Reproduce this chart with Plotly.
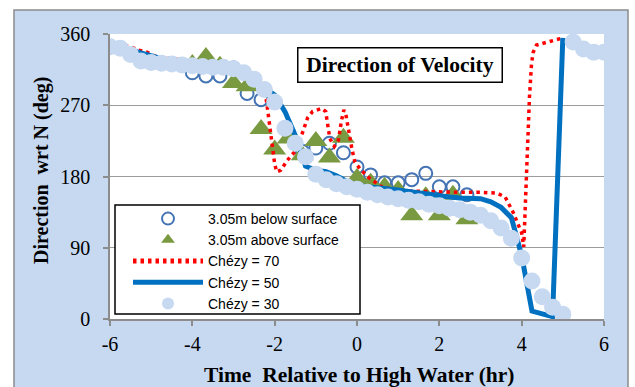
import plotly.graph_objects as go

# ---------------- data ----------------
# Observations (every 20 min)
t_obs = [-4, -3.67, -3.33, -3, -2.67, -2.33, -2, -1.67, -1.33, -1, -0.67, -0.33,
         0, 0.33, 0.67, 1, 1.33, 1.67, 2, 2.33, 2.67]
dir_below = [311, 307, 307, 317, 285, 277, 274, 236, 212, 216, 222, 210,
             192, 182, 172, 172, 176, 184, 167, 167, 157]
dir_above = [322, 331, 320, 298, 294, 240, 214, 228, 207, 225, 204, 229,
             178, 172, 167, 163, 131, 155, 131, 157, 126]

# Model Chezy = 70 (red dotted)
t70 = [-6, -5.5, -5.33, -5.1, -4.9, -4.5, -4.1, -3.5, -3.0, -2.5, -2.3, -2.2, -2.15,
       -2.1, -2.05, -2.0, -1.95, -1.85, -1.7, -1.5, -1.4, -1.27, -1.2, -1.08, -0.86,
       -0.76, -0.71, -0.66, -0.55, -0.45, -0.38, -0.32, -0.27, -0.2, -0.12, -0.05,
       0.1, 0.3, 0.6, 1.0, 1.5, 2.0, 2.5, 3.0, 3.4, 3.6, 3.7, 3.8, 3.9, 4.0, 4.05,
       4.11, 4.15, 4.19, 4.24, 4.28, 4.36, 4.56, 4.75, 5.0]
c70 = [350, 344, 340, 337, 332, 329, 326, 320, 314, 302, 288, 276, 255,
       232, 212, 196, 186, 188, 200, 212, 224, 243, 254, 262, 266,
       262, 245, 228, 218, 226, 250, 264, 258, 235, 214, 198,
       188, 178, 167, 162, 161, 160, 160, 160, 159, 154, 145, 134, 121, 109, 91,
       184, 226, 281, 323, 337, 346, 349, 352, 355]

# Model Chezy = 50 (blue line) and Chezy = 30 (light-blue circles), every 15 min
t50 = [-6, -5.75, -5.5, -5.25, -5, -4.75, -4.5, -4.25, -4, -3.75, -3.5, -3.25,
       -3, -2.75, -2.5, -2.25, -2, -1.75, -1.5, -1.25, -1, -0.75, -0.5, -0.25,
       0, 0.25, 0.5, 0.75, 1, 1.25, 1.5, 1.75, 2, 2.25, 2.5, 2.75, 3, 3.25,
       3.5, 3.75, 4, 4.25, 4.5, 4.75, 5]
c50 = [347, 344, 340, 336, 332, 329, 327, 325, 323, 321, 319, 317,
       314, 308, 302, 292, 283, 262, 232, 193, 188, 186, 181, 174,
       169, 167, 166, 165, 163, 161, 159, 157, 155, 154, 153, 153, 152, 148,
       141, 128, 80, 10, 6, 3, 355]

t30 = [-6, -5.75, -5.5, -5.25, -5, -4.75, -4.5, -4.25, -4, -3.75, -3.5, -3.25,
       -3, -2.75, -2.5, -2.25, -2, -1.75, -1.5, -1.25, -1, -0.75, -0.5, -0.25,
       0, 0.25, 0.5, 0.75, 1, 1.25, 1.5, 1.75, 2, 2.25, 2.5, 2.75, 3, 3.25,
       3.5, 3.75, 4, 4.25, 4.5, 4.75, 5, 5.25, 5.5, 5.75, 6]
c30 = [344, 342, 334, 326, 324, 323, 322, 321, 320, 319, 318, 318,
       316, 311, 303, 290, 274, 241, 222, 205, 183, 176, 171, 167,
       164, 160, 157, 154, 152, 150, 148, 145, 143, 140, 138, 135, 131, 124,
       115, 102, 77, 48, 28, 15, 6, 350, 341, 337, 337]

x_tickvals = [-6, -4, -2, 0, 2, 4, 6]
x_ticktext = ["-6", "-4", "-2", "0", "2", "4", "6"]
y_tickvals = [0, 90, 180, 270, 360]
y_ticktext = ["0", "90", "180", "270", "360"]

names = ["3.05m below surface", "3.05m above surface",
         "Chézy = 70", "Chézy = 50", "Chézy = 30"]

# ---------------- geometry helpers (pixels -> paper) ----------------
W, H = 635, 387
L, R, T, B = 110, 31, 34, 68
PW, PH = W - L - R, H - T - B


def px(x):
    return (x - L) / PW


def py(y):
    return (H - B - y) / PH


SERIF = "Liberation Serif"
SANS = "Liberation Sans"
BG = "#C6D9F1"

fig = go.Figure()
fig.add_trace(go.Scatter(
    x=t_obs, y=dir_below, mode="markers", name=names[0], cliponaxis=False,
    marker=dict(symbol="circle-open", size=13, color="#4474B4",
                line=dict(width=2, color="#4474B4"))))
fig.add_trace(go.Scatter(
    x=t_obs, y=dir_above, mode="markers", name=names[1], cliponaxis=False,
    marker=dict(symbol="triangle-up", size=20, color="#7A9A42", line=dict(width=0))))
fig.add_trace(go.Scatter(
    x=t70, y=c70, mode="lines", name=names[2],
    line=dict(color="#FF0000", width=3.5, dash="3.5px,4px")))
fig.add_trace(go.Scatter(
    x=t50, y=c50, mode="lines", name=names[3],
    line=dict(color="#0070C0", width=5)))
fig.add_trace(go.Scatter(
    x=t30, y=c30, mode="markers", name=names[4], cliponaxis=False,
    marker=dict(symbol="circle", size=17, color=BG, line=dict(width=0))))

shapes = [
    # white surround outside the chart area
    dict(type="rect", xref="paper", yref="paper", x0=px(0), x1=px(14), y0=py(H + 5), y1=py(-5),
         fillcolor="white", line=dict(width=0), layer="above"),
    dict(type="rect", xref="paper", yref="paper", x0=px(0), x1=px(W + 5), y0=py(10), y1=py(-5),
         fillcolor="white", line=dict(width=0), layer="above"),
    dict(type="rect", xref="paper", yref="paper", x0=px(628), x1=px(W + 5), y0=py(H + 5), y1=py(-5),
         fillcolor="white", line=dict(width=0), layer="above"),
    dict(type="rect", xref="paper", yref="paper", x0=px(14), x1=px(628), y0=py(H + 5), y1=py(10),
         line=dict(width=1.5, color="#8C8C8C"), layer="above"),
    # legend box
    dict(type="rect", xref="paper", yref="paper", x0=px(115), x1=px(360), y0=py(314), y1=py(205),
         fillcolor="white", line=dict(width=1.5, color="black"), layer="above"),
]

annotations = [
    dict(text="<b>Direction of Velocity</b>", xref="paper", yref="paper",
         x=px(399.5), y=py(65), xanchor="center", yanchor="middle", showarrow=False,
         font=dict(family=SERIF, size=21.5, color="black"),
         width=199, height=29, borderpad=2, borderwidth=1.5, bordercolor="black",
         bgcolor="white"),
    dict(text="<b>Direction\u00a0 wrt N (deg)</b>", xref="paper", yref="paper",
         x=px(41), y=py(171), xanchor="center", yanchor="middle", showarrow=False,
         textangle=-90, font=dict(family=SERIF, size=20, color="black")),
    dict(text="<b>Time\u00a0 Relative to High Water (hr)</b>", xref="paper", yref="paper",
         x=px(359), y=py(375), xanchor="center", yanchor="middle", showarrow=False,
         font=dict(family=SERIF, size=21.5, color="black")),
]

fig.update_layout(
    width=W, height=H, autosize=False,
    margin=dict(l=L, r=R, t=T, b=B, pad=0),
    paper_bgcolor=BG, plot_bgcolor="white",
    showlegend=True,
    legend=dict(x=px(128), y=py(203), xanchor="left", yanchor="top",
                bgcolor="rgba(0,0,0,0)", borderwidth=0, itemwidth=70,
                itemsizing="constant", traceorder="normal",
                font=dict(family=SANS, size=14, color="black")),
    shapes=shapes, annotations=annotations,
    xaxis=dict(range=[-6, 6], tickvals=x_tickvals, ticktext=x_ticktext,
               showgrid=False, zeroline=False, showline=True, linecolor="#8C8C8C",
               linewidth=1.5, ticks="outside", ticklen=5, tickcolor="#8C8C8C",
               tickwidth=1.5, ticklabelstandoff=1,
               tickfont=dict(family=SERIF, size=20, color="black")),
    yaxis=dict(range=[0, 360], tickvals=y_tickvals, ticktext=y_ticktext,
               showgrid=True, gridcolor="#9C9C9C", gridwidth=1.3, zeroline=False,
               showline=True, linecolor="#8C8C8C", linewidth=1.5, ticks="outside",
               ticklen=5, tickcolor="#8C8C8C", tickwidth=1.5, ticklabelstandoff=9,
               tickfont=dict(family=SERIF, size=20, color="black")),
)

fig.write_html("out.html", config={"displayModeBar": False},
               post_script="document.body.style.margin='0';")
